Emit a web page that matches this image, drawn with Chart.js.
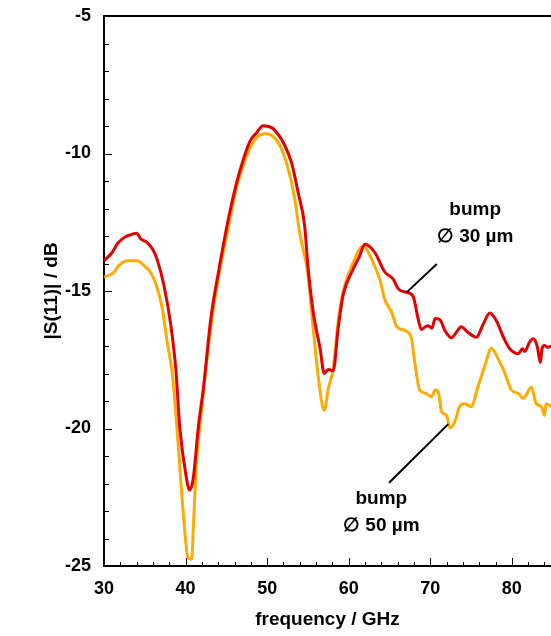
<!DOCTYPE html>
<html>
<head>
<meta charset="utf-8">
<script src="https://cdn.jsdelivr.net/npm/chart.js@4/dist/chart.umd.min.js"></script>
<style>
  html, body { margin: 0; padding: 0; background: #fff; }
  #wrap { width: 551px; height: 636px; }
</style>
</head>
<body>
<div id="wrap"><canvas id="s11"></canvas></div>
<script>
(function () {
  "use strict";

  // bump 30 um (red)
  const red_f = [30.0, 31.0, 31.6, 32.5, 33.3, 34.0, 34.5, 35.3, 36.0, 36.5, 37.35, 38.2, 38.8, 39.3, 40.05, 40.5, 40.95, 41.55, 42.2, 43.1, 44.1, 45.3, 46.26, 47.1, 47.9, 48.7, 49.5, 50.2, 50.75, 51.36, 52.0, 53.0, 53.8, 54.6, 55.0, 55.65, 56.5, 57.0, 57.5, 58.1, 58.7, 59.3, 60.55, 61.3, 62.0, 63.2, 64.4, 65.45, 66.1, 67.1, 67.9, 68.5, 68.9, 69.4, 69.75, 70.2, 70.6, 71.2, 71.8, 72.6, 73.2, 73.8, 74.6, 75.65, 76.5, 77.3, 78.1, 79.0, 79.75, 80.8, 81.3, 81.6, 82.1, 82.6, 83.1, 83.5, 83.7, 84.0, 84.4, 84.8];
  const red_db = [-13.9, -13.6, -13.3, -13.05, -12.95, -12.9, -13.1, -13.24, -13.5, -13.84, -14.8, -16.26, -17.83, -20.0, -21.7, -22.24, -21.8, -20.0, -18.5, -16.0, -14.2, -12.3, -11.06, -10.2, -9.55, -9.25, -8.99, -9.02, -9.1, -9.31, -9.61, -10.34, -11.42, -12.63, -14.1, -15.77, -17.1, -18.0, -17.85, -17.9, -16.38, -15.17, -14.2, -13.75, -13.3, -13.6, -14.3, -14.57, -14.93, -15.05, -15.2, -16.0, -16.4, -16.3, -16.26, -16.35, -16.0, -16.05, -16.44, -16.7, -16.5, -16.3, -16.5, -16.68, -16.2, -15.8, -16.08, -16.7, -17.1, -17.28, -17.1, -17.2, -16.9, -16.74, -17.0, -17.6, -17.1, -16.98, -17.05, -17.0];

  // bump 50 um (orange)
  const orange_f = [30.0, 31.2, 31.8, 32.9, 34.1, 34.9, 35.7, 36.5, 37.15, 37.75, 38.4, 39.1, 39.7, 40.3, 40.75, 40.95, 41.35, 42.0, 43.1, 44.1, 45.3, 46.2, 47.1, 47.9, 48.8, 49.7, 50.6, 51.6, 52.6, 53.4, 54.0, 55.0, 55.65, 56.3, 57.0, 57.5, 58.1, 58.7, 59.3, 60.55, 61.8, 62.8, 63.8, 64.4, 65.25, 65.9, 66.9, 67.7, 68.1, 68.7, 69.5, 70.15, 70.6, 71.0, 71.4, 72.0, 72.4, 73.0, 73.6, 74.2, 75.0, 75.9, 76.7, 77.5, 78.3, 79.1, 79.95, 80.8, 81.4, 82.4, 83.0, 83.6, 84.0, 84.2, 84.8];
  const orange_db = [-14.5, -14.32, -14.08, -13.9, -13.9, -14.08, -14.32, -14.87, -15.65, -16.86, -18.07, -20.6, -23.0, -24.7, -24.75, -23.6, -21.2, -19.2, -16.3, -14.4, -12.6, -11.3, -10.4, -9.8, -9.4, -9.28, -9.35, -9.73, -10.58, -11.67, -12.9, -14.4, -16.38, -18.2, -19.34, -18.55, -17.83, -16.13, -15.05, -13.96, -13.36, -13.84, -14.57, -15.29, -15.77, -16.3, -16.44, -16.74, -17.6, -18.6, -18.73, -18.85, -18.6, -18.7, -19.4, -19.52, -19.98, -19.76, -19.2, -19.1, -19.2, -18.43, -17.7, -17.08, -17.46, -17.95, -18.6, -18.73, -18.9, -18.5, -19.1, -19.2, -19.52, -19.1, -19.2];

  // axis ticks
  const x_major = [30, 40, 50, 60, 70, 80];
  const x_minor = [32, 34, 36, 38, 42, 44, 46, 48, 52, 54, 56, 58, 62, 64, 66, 68, 72, 74, 76, 78, 82, 84];
  const y_major = [-25, -20, -15, -10, -5];
  const y_minor = [-24, -23, -22, -21, -19, -18, -17, -16, -14, -13, -12, -11, -9, -8, -7, -6];

  // labels: [text lines], text anchor (f, dB), leader line from / to (f, dB)
  const note_labels = [["bump", "\u2205 30 \u00b5m"], ["bump", "\u2205 50 \u00b5m"]];
  const note_text_at = [[75.5, -12.05], [64.0, -22.55]];
  const note_line_from = [[67.1, -15.05], [72.2, -19.84]];
  const note_line_to = [[70.8, -14.02], [64.95, -21.97]];

  const FONT = "'Liberation Sans', Arial, Helvetica, sans-serif";

  function pts(xs, ys) {
    return xs.map(function (x, i) { return { x: x, y: ys[i] }; });
  }

  const frame = {
    id: 'frame',
    afterDraw: function (chart) {
      const ctx = chart.ctx;
      const a = chart.chartArea;
      const xs = chart.scales.x, ys = chart.scales.y;
      ctx.save();
      ctx.strokeStyle = '#000';
      // top border
      ctx.lineWidth = 2;
      ctx.beginPath();
      ctx.moveTo(a.left, a.top);
      ctx.lineTo(a.right, a.top);
      ctx.stroke();
      // inward ticks
      ctx.lineWidth = 1;
      function xt(v, len) {
        const p = Math.round(xs.getPixelForValue(v)) + 0.5;
        ctx.moveTo(p, a.bottom);
        ctx.lineTo(p, a.bottom - len);
      }
      function yt(v, len) {
        const p = Math.round(ys.getPixelForValue(v)) + 0.5;
        ctx.moveTo(a.left, p);
        ctx.lineTo(a.left + len, p);
      }
      ctx.beginPath();
      x_major.forEach(function (v) { xt(v, 8); });
      x_minor.forEach(function (v) { xt(v, 4); });
      y_major.forEach(function (v) { yt(v, 8); });
      y_minor.forEach(function (v) { yt(v, 5); });
      ctx.stroke();
      // annotations
      ctx.lineWidth = 2;
      ctx.beginPath();
      for (let i = 0; i < note_line_from.length; i++) {
        ctx.moveTo(xs.getPixelForValue(note_line_from[i][0]), ys.getPixelForValue(note_line_from[i][1]));
        ctx.lineTo(xs.getPixelForValue(note_line_to[i][0]), ys.getPixelForValue(note_line_to[i][1]));
      }
      ctx.stroke();
      ctx.fillStyle = '#000';
      ctx.font = 'bold 19px ' + FONT;
      ctx.textAlign = 'center';
      ctx.textBaseline = 'middle';
      for (let i = 0; i < note_labels.length; i++) {
        const cx = xs.getPixelForValue(note_text_at[i][0]);
        const cy = ys.getPixelForValue(note_text_at[i][1]);
        note_labels[i].forEach(function (t, k) {
          ctx.fillText(t, cx, cy + k * 27);
        });
      }
      ctx.restore();
    }
  };

  const ctx = document.getElementById('s11').getContext('2d');
  new Chart(ctx, {
    type: 'line',
    data: {
      datasets: [{
        label: 'bump 30 um',
        data: pts(red_f, red_db),
        borderColor: '#e30000',
        borderWidth: 3,
        pointRadius: 0,
        cubicInterpolationMode: 'monotone',
        fill: false
      }, {
        label: 'bump 50 um',
        data: pts(orange_f, orange_db),
        borderColor: '#ffaa00',
        borderWidth: 3,
        pointRadius: 0,
        cubicInterpolationMode: 'monotone',
        fill: false
      }]
    },
    options: {
      responsive: true,
      maintainAspectRatio: false,
      animation: false,
      clip: false,
      layout: { padding: { top: 16, right: 0, left: 0, bottom: 0 } },
      plugins: {
        legend: { display: false },
        tooltip: { enabled: false }
      },
      scales: {
        x: {
          type: 'linear',
          min: 30,
          max: 84.8,
          afterFit: function (s) { s.height = 70; s.paddingLeft = 0; s.paddingRight = 0; },
          grid: { display: false, drawTicks: false },
          border: { display: true, color: '#000', width: 2 },
          ticks: {
            stepSize: 10,
            includeBounds: false,
            padding: 12,
            color: '#000',
            maxRotation: 0,
            font: { family: FONT, size: 18, weight: 'bold' }
          },
          title: {
            display: true,
            text: 'frequency / GHz',
            color: '#000',
            padding: { top: 0, bottom: 5 },
            font: { family: FONT, size: 19, weight: 'bold' }
          }
        },
        y: {
          type: 'linear',
          min: -25,
          max: -5,
          afterFit: function (s) { s.width = 104; s.paddingTop = 0; s.paddingBottom = 0; },
          grid: { display: false, drawTicks: false },
          border: { display: true, color: '#000', width: 2 },
          ticks: {
            stepSize: 5,
            padding: 13,
            color: '#000',
            font: { family: FONT, size: 18, weight: 'bold' }
          },
          title: {
            display: true,
            text: '|S(11)| / dB',
            color: '#000',
            padding: { top: 40, bottom: 0 },
            font: { family: FONT, size: 19, weight: 'bold' }
          }
        }
      }
    },
    plugins: [frame]
  });
})();
</script>
</body>
</html>
